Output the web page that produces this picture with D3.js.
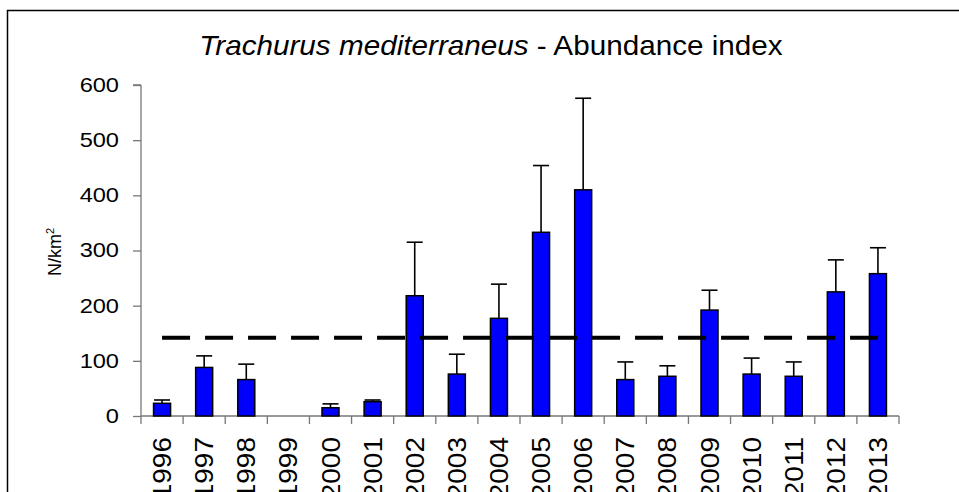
<!DOCTYPE html>
<html>
<head>
<meta charset="utf-8">
<script src="https://cdn.jsdelivr.net/npm/d3@7"></script>
<style>
  body { margin: 0; background: #fff; }
  svg { display: block; font-family: "Liberation Sans", Arial, sans-serif; }
</style>
</head>
<body>
<div id="chart"></div>
<script>
// abundance index (N/km2) per survey year, 1999 has no survey
var years = ["1996", "1997", "1998", "1999", "2000", "2001", "2002", "2003", "2004",
             "2005", "2006", "2007", "2008", "2009", "2010", "2011", "2012", "2013"];
var abundance = [23, 88, 66, null, 15, 26, 218, 76, 177, 333, 410, 66, 72, 192, 76, 72, 225, 258];
var upperError = [29, 109, 94, null, 22, 29, 315, 112, 239, 454, 576, 98, 91, 228, 105, 98, 283, 305];
var meanValue = 142;
var yTicks = [0, 100, 200, 300, 400, 500, 600];

var width = 959, height = 492;
var margin = {top: 85, right: 60, bottom: 76, left: 141};

var svg = d3.select("#chart")
            .append("svg")
            .attr("width", width)
            .attr("height", height);

// outer frame
svg.append("rect")
   .attr("x", 7.5).attr("y", 10.5)
   .attr("width", width + 10).attr("height", height + 10)
   .attr("fill", "none")
   .attr("stroke", "#000")
   .attr("stroke-width", 1.5);

var x = d3.scaleBand().domain(years).range([margin.left, width - margin.right]);
var y = d3.scaleLinear().domain([0, 600]).range([height - margin.bottom, margin.top]);

var g = svg.append("g");

// y axis
var yAxis = g.append("g")
    .attr("transform", "translate(" + margin.left + ",0)")
    .call(d3.axisLeft(y).tickValues(yTicks).tickSize(8).tickPadding(0));
yAxis.selectAll("path, line").attr("stroke", "#777").attr("stroke-width", 1.3);
yAxis.selectAll("text")
    .attr("x", 0)
    .attr("transform", "translate(-22,0) scale(1.18,1)")
    .attr("font-size", 20).attr("fill", "#000")
    .attr("font-family", "Liberation Sans, Arial, sans-serif");
yAxis.select(".domain").attr("d", "M0," + y(600) + "H-8M0," + y(600) + "V" + y(0));

// x axis: ticks on category boundaries
var xAxis = g.append("g")
    .attr("transform", "translate(0," + y(0) + ")");
xAxis.append("line")
    .attr("x1", margin.left).attr("x2", width - margin.right)
    .attr("stroke", "#777").attr("stroke-width", 1.3);
xAxis.selectAll(".tick")
    .data(years.concat(["end"]))
    .enter()
    .append("line")
    .attr("x1", function(d, i) { return margin.left + i * x.step(); })
    .attr("x2", function(d, i) { return margin.left + i * x.step(); })
    .attr("y1", 0).attr("y2", 8)
    .attr("stroke", "#777").attr("stroke-width", 1.3);
xAxis.selectAll("text")
    .data(years)
    .enter()
    .append("text")
    .attr("transform", function(d) {
        return "translate(" + (x(d) + x.bandwidth() / 2 + 9) + ",21) rotate(-90) scale(1.12,1)";
    })
    .attr("text-anchor", "end")
    .attr("font-size", 25)
    .text(function(d) { return d; });

// y label
svg.append("text")
   .attr("transform", "translate(61,252) rotate(-90)")
   .attr("text-anchor", "middle")
   .attr("font-size", 18)
   .html("N/km<tspan dy='-7' font-size='11'>2</tspan>");

// title
var title = svg.append("text")
   .attr("transform", "translate(491,55) scale(1.06,1)")
   .attr("text-anchor", "middle")
   .attr("font-size", 28);
title.append("tspan").attr("font-style", "italic").text("Trachurus mediterraneus");
title.append("tspan").text("  - Abundance index");

var barW = 17;
var data = years.map(function(d, i) {
    return {year: d, value: abundance[i], upper: upperError[i]};
}).filter(function(d) { return d.value !== null; });

// error bars (upper only)
var err = g.append("g").attr("stroke", "#000").attr("stroke-width", 1.6);
err.selectAll("line.stem")
   .data(data)
   .enter()
   .append("line")
   .attr("x1", function(d) { return x(d.year) + x.bandwidth() / 2; })
   .attr("x2", function(d) { return x(d.year) + x.bandwidth() / 2; })
   .attr("y1", function(d) { return y(d.value); })
   .attr("y2", function(d) { return y(d.upper); });
err.selectAll("line.cap")
   .data(data)
   .enter()
   .append("line")
   .attr("x1", function(d) { return x(d.year) + x.bandwidth() / 2 - 8; })
   .attr("x2", function(d) { return x(d.year) + x.bandwidth() / 2 + 8; })
   .attr("y1", function(d) { return y(d.upper); })
   .attr("y2", function(d) { return y(d.upper); });

// bars
g.append("g")
 .selectAll("rect")
 .data(data)
 .enter()
 .append("rect")
 .attr("x", function(d) { return x(d.year) + (x.bandwidth() - barW) / 2; })
 .attr("y", function(d) { return y(d.value); })
 .attr("width", barW)
 .attr("height", function(d) { return y(0) - y(d.value); })
 .attr("fill", "#0000ff")
 .attr("stroke", "#000")
 .attr("stroke-width", 1.5);

// dashed mean line
g.append("line")
 .attr("x1", x(years[0]) + x.bandwidth() / 2)
 .attr("x2", x(years[years.length - 1]) + x.bandwidth() / 2)
 .attr("y1", y(meanValue)).attr("y2", y(meanValue))
 .attr("stroke", "#000")
 .attr("stroke-width", 4)
 .attr("stroke-dasharray", "28,15");
</script>
</body>
</html>
